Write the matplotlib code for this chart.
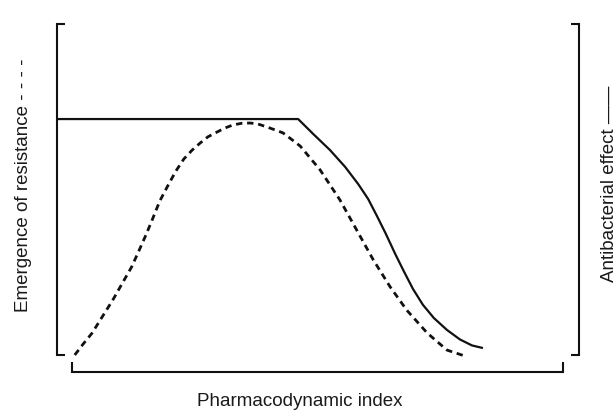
import matplotlib
matplotlib.use("Agg")
import matplotlib.pyplot as plt

# Data, x: pharmacodynamic index (0-100), y: effect (0-100)
antibacterial_x = [0.0, 46.2, 49.0, 52.3, 55.2, 57.7, 59.6, 61.3, 63.0, 64.8, 66.5,
                   68.2, 70.1, 72.2, 74.7, 77.2, 79.5, 81.6]
antibacterial_y = [71.5, 71.5, 67.1, 62.1, 57.0, 51.8, 47.3, 42.1, 36.7, 30.6, 25.2,
                   20.0, 15.2, 11.2, 7.6, 4.7, 2.9, 2.1]

resistance_x = [3.4, 5.0, 6.7, 8.6, 10.7, 12.5, 14.3, 15.7, 17.1, 18.4, 19.7, 21.3,
                22.8, 24.3, 25.9, 27.4, 28.9, 30.7, 32.2, 33.7, 35.3, 37.0, 38.5,
                40.2, 41.8, 43.3, 44.8, 46.6, 50.4, 54.2, 57.4, 60.6, 63.8, 67.0,
                70.9, 74.7, 78.5]
resistance_y = [0.0, 3.3, 6.6, 11.4, 16.7, 21.7, 26.7, 31.6, 36.6, 41.6, 46.7, 51.5,
                55.8, 59.4, 62.1, 64.2, 66.1, 67.6, 68.8, 69.7, 70.2, 70.3, 70.0,
                69.1, 68.2, 67.3, 65.5, 63.3, 56.1, 47.0, 37.9, 28.8, 20.7, 13.6,
                6.7, 1.5, -0.5]

x_label = "Pharmacodynamic index"
left_label = "Emergence of resistance - - - -"
right_label = "Antibacterial effect \u2014\u2014"

W, H = 616, 412
fig = plt.figure(figsize=(W / 100, H / 100), dpi=100)
fig.patch.set_facecolor("white")
ax = fig.add_axes([57 / W, (H - 355) / H, 522 / W, 330 / H])
ax.set_xlim(0, 100)
ax.set_ylim(0, 100)
ax.axis("off")

ink = "#111111"
ax.plot(antibacterial_x, antibacterial_y, color=ink, lw=1.6, solid_capstyle="butt",
        solid_joinstyle="round", clip_on=False)
ax.plot(resistance_x, resistance_y, color=ink, lw=2.0, dashes=(2.3, 1.7),
        clip_on=False)

# brackets
bk = dict(color=ink, lw=1.5, clip_on=False, solid_joinstyle="miter",
          solid_capstyle="butt")
ax.plot([1.5, 0, 0, 1.5], [100.3, 100.3, 0, 0], **bk)
ax.plot([98.5, 100, 100, 98.5], [100.3, 100.3, 0, 0], **bk)
ax.plot([2.9, 2.9, 96.9, 96.9], [-2.1, -5.15, -5.15, -2.1], **bk)

font = ["Liberation Sans", "DejaVu Sans"]
tc = "#1a1a1a"
fig.text(300 / W, (H - 402) / H, x_label, ha="center", va="center",
         fontsize=13.5, family=font, color=tc)
fig.text(24 / W, (H - 185) / H, left_label, ha="center", va="center",
         rotation=90, fontsize=13.5, family=font, color=tc)
fig.text(609 / W, (H - 184) / H, right_label, ha="center", va="center",
         rotation=90, fontsize=13.5, family=font, color=tc)

fig.savefig("out.png", dpi=100, facecolor="white")
